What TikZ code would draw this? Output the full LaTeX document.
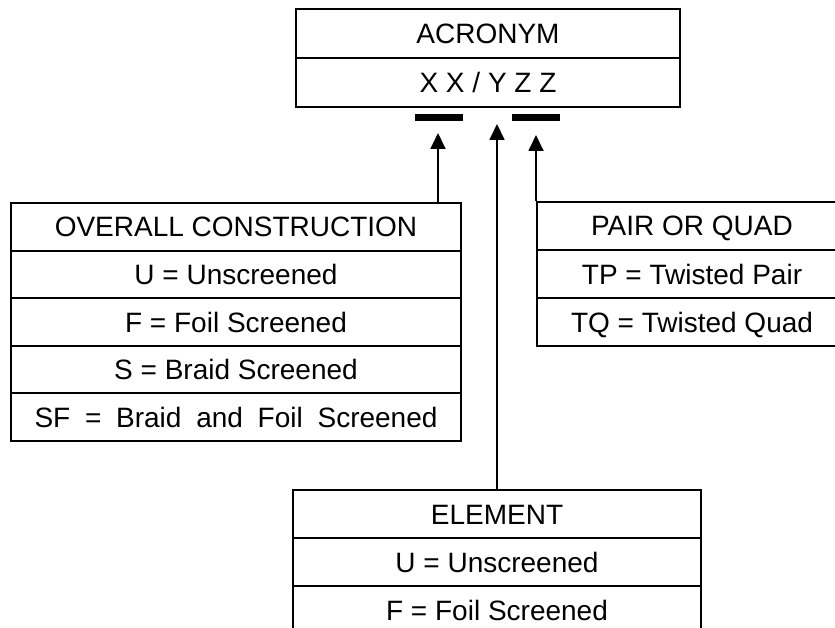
\documentclass[tikz,border=0pt]{standalone}
\usepackage{fontspec}
\setmainfont{Liberation Sans}
\usetikzlibrary{arrows.meta}

\begin{document}
\begin{tikzpicture}[x=1pt,y=-1pt,
  cell/.style={draw, line width=2pt, inner sep=0pt, anchor=north west,
    text height=20pt, text depth=0pt,
    font=\fontsize{28}{34}\selectfont},
  topcell/.style={cell, minimum width=384pt, minimum height=49pt},
  leftcell/.style={cell, minimum width=450pt, minimum height=47.6pt},
  rightcell/.style={cell, minimum width=310pt, minimum height=48pt},
  elemcell/.style={cell, minimum width=408pt, minimum height=48pt},
  codebar/.style={fill=black, inner sep=0pt, minimum width=48pt, minimum height=7pt},
  arr/.style={line width=1.8pt, -{Triangle[width=15pt,length=16pt]}}]
  \useasboundingbox (0,0) rectangle (835,628);
  \clip (0,0) rectangle (835,628);

  % acronym box
  \node[topcell] (acr)  at (295,8)  {ACRONYM};
  \node[topcell] (code) at (295,57) {X X / Y Z Z};

  % bars under the two letter groups
  \node[codebar] (barX) at (439,117.5) {};
  \node[codebar] (barZ) at (535.5,117.5) {};

  % overall construction
  \node[leftcell] (oc1) at (10,202)   {OVERALL CONSTRUCTION};
  \node[leftcell] (oc2) at (10,249.6) {U = Unscreened};
  \node[leftcell] (oc3) at (10,297.2) {F = Foil Screened};
  \node[leftcell] (oc4) at (10,344.8) {S = Braid Screened};
  \node[leftcell] (oc5) at (10,392.4) {\makebox[403pt][s]{SF = Braid and Foil Screened}};

  % pair or quad
  \node[rightcell] (pq1) at (536,201) {PAIR OR QUAD};
  \node[rightcell] (pq2) at (536,249) {TP = Twisted Pair};
  \node[rightcell] (pq3) at (536,297) {TQ = Twisted Quad};

  % element
  \node[elemcell] (el1) at (292,489) {ELEMENT};
  \node[elemcell] (el2) at (292,537) {U = Unscreened};
  \node[elemcell] (el3) at (292,585) {F = Foil Screened};

  % arrow tips
  \coordinate (tipX) at (438,133);
  \coordinate (tipY) at (497,124);
  \coordinate (tipZ) at (536,135);

  \draw[arr] (tipX |- oc1.north) -- (tipX);
  \draw[arr] (tipY |- el1.north) -- (tipY);
  \draw[arr] (pq1.north west) -- (tipZ);
\end{tikzpicture}
\end{document}
